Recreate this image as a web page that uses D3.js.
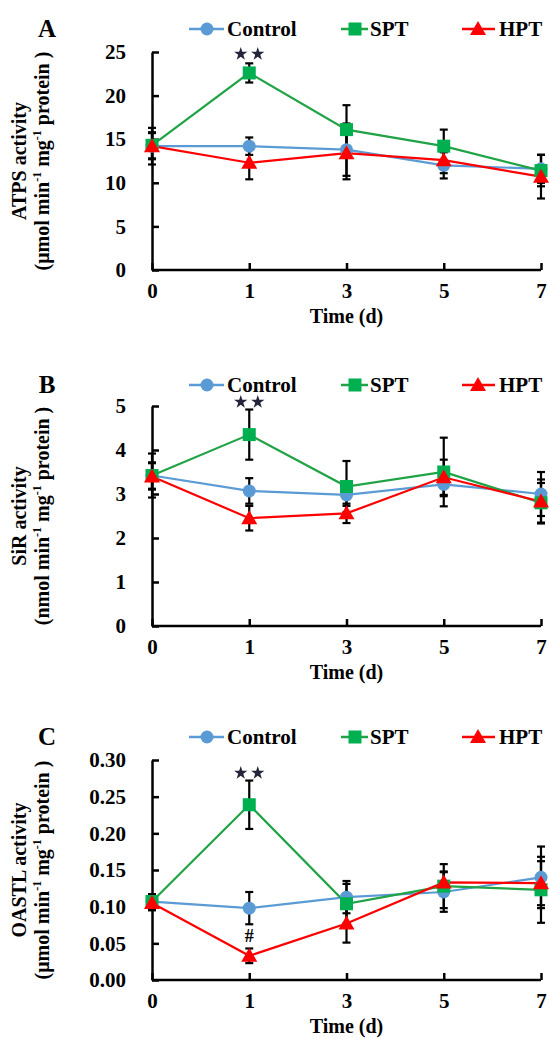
<!DOCTYPE html>
<html>
<head>
<meta charset="utf-8">
<script src="https://cdn.jsdelivr.net/npm/d3@7"></script>
<style>
  body { margin: 0; background: #fff; }
  svg text { font-family: "Liberation Serif", "Times New Roman", serif; font-weight: bold; }
</style>
</head>
<body>
<div id="chart"></div>
<script>
// sampling days (equally spaced on the axis)
const days = [0, 1, 3, 5, 7];
const seriesNames = ["Control", "SPT", "HPT"];

// ATPS activity (umol min-1 mg-1 protein)
const atpsControl = [14.2, 14.2, 13.8, 12.0, 11.6];
const atpsControlErr = [2.1, 1.0, 3.0, 1.5, 1.6];
const atpsSPT = [14.3, 22.6, 16.1, 14.2, 11.4];
const atpsSPTErr = [1.5, 1.1, 2.8, 1.9, 1.8];
const atpsHPT = [14.2, 12.3, 13.4, 12.6, 10.7];
const atpsHPTErr = [1.5, 1.9, 3.0, 1.5, 2.5];
const atpsTicks = [0, 5, 10, 15, 20, 25];

// SiR activity (nmol min-1 mg-1 protein)
const sirControl = [3.42, 3.07, 2.98, 3.22, 3.00];
const sirControlErr = [0.5, 0.29, 0.25, 0.27, 0.5];
const sirSPT = [3.42, 4.35, 3.17, 3.50, 2.80];
const sirSPTErr = [0.3, 0.57, 0.58, 0.78, 0.45];
const sirHPT = [3.40, 2.45, 2.56, 3.38, 2.83];
const sirHPTErr = [0.3, 0.28, 0.22, 0.4, 0.5];
const sirTicks = [0, 1, 2, 3, 4, 5];

// OASTL activity (umol min-1 mg-1 protein)
const oastlControl = [0.107, 0.098, 0.113, 0.120, 0.140];
const oastlControlErr = [0.01, 0.022, 0.022, 0.027, 0.042];
const oastlSPT = [0.107, 0.239, 0.104, 0.128, 0.123];
const oastlSPTErr = [0.01, 0.033, 0.027, 0.030, 0.045];
const oastlHPT = [0.105, 0.033, 0.077, 0.133, 0.132];
const oastlHPTErr = [0.01, 0.010, 0.026, 0.015, 0.030];
const oastlTicks = [0, 0.05, 0.10, 0.15, 0.20, 0.25, 0.30];

const lineColors = ["#5B9BD5", "#1FA345", "#FF0000"];
const markColors = ["#5B9BD5", "#00B050", "#FF0000"];

const width = 549, height = 1038;
const svg = d3.select("#chart").append("svg").attr("width", width).attr("height", height);

const x = d3.scalePoint().domain(days).range([152, 541]);

function marker(g, i, cx, cy) {
    if (i == 0) {
        g.append("circle").attr("cx", cx).attr("cy", cy).attr("r", 6.5).attr("fill", markColors[0]);
    }
    else if (i == 1) {
        g.append("rect").attr("x", cx - 6.5).attr("y", cy - 6.5).attr("width", 13).attr("height", 13).attr("fill", markColors[1]);
    }
    else {
        g.append("path").attr("d", `M${cx},${cy - 8} L${cx + 8},${cy + 6} L${cx - 8},${cy + 6} Z`).attr("fill", markColors[2]);
    }
}

function panel(opts) {
    const y = d3.scaleLinear().domain([0, d3.max(opts.ticks)]).range([opts.bottom, opts.top]);
    const g = svg.append("g");

    // panel letter + legend
    g.append("text").attr("x", 47).attr("y", opts.legendY + 8).attr("text-anchor", "middle")
        .attr("font-size", 25).text(opts.letter);

    const legendPos = [[189, 224, 207, 227], [341, 368, 355, 370], [462, 495, 478, 499]];
    seriesNames.forEach((name, i) => {
        let p = legendPos[i];
        g.append("line").attr("x1", p[0]).attr("x2", p[1]).attr("y1", opts.legendY).attr("y2", opts.legendY)
            .attr("stroke", lineColors[i]).attr("stroke-width", 2.5);
        marker(g, i, p[2], opts.legendY);
        g.append("text").attr("x", p[3]).attr("y", opts.legendY + 7).attr("font-size", 21).text(name);
    });

    // axes
    const yAxis = d3.axisLeft(y).tickValues(opts.ticks).tickFormat(opts.fmt)
        .tickSizeInner(-7).tickSizeOuter(0).tickPadding(26);
    const ya = g.append("g").attr("transform", `translate(${x(0)},0)`).call(yAxis);
    const xAxis = d3.axisBottom(x).tickSizeInner(-7).tickSizeOuter(0).tickPadding(13);
    const xa = g.append("g").attr("transform", `translate(0,${opts.bottom})`).call(xAxis);
    [ya, xa].forEach(a => {
        a.selectAll("path, line").attr("stroke", "#000").attr("stroke-width", 2.5);
        a.selectAll("text").attr("font-size", 21).attr("fill", "#000")
            .style("font-family", '"Liberation Serif", serif').style("font-weight", "bold");
    });
    xa.select(".domain").attr("d", `M${x(0)},0H${x(7)}`);

    // axis titles
    g.append("text").attr("x", (x(0) + x(7)) / 2).attr("y", opts.bottom + 53).attr("text-anchor", "middle")
        .attr("font-size", 20).text("Time (d)");

    const cy = (opts.top + opts.bottom) / 2;
    g.append("text").attr("transform", `translate(26,${cy}) rotate(-90)`).attr("text-anchor", "middle")
        .attr("font-size", 20).text(opts.title);
    const t2 = g.append("text").attr("transform", `translate(49,${cy}) rotate(-90)`).attr("text-anchor", "middle")
        .attr("font-size", 20);
    t2.append("tspan").text(`(${opts.unit} min`);
    t2.append("tspan").attr("dy", -8).attr("font-size", 12).text("-1");
    t2.append("tspan").attr("dy", 8).text(" mg");
    t2.append("tspan").attr("dy", -8).attr("font-size", 12).text("-1");
    t2.append("tspan").attr("dy", 8).text(" protein )");

    // error bars
    const eb = g.append("g").attr("stroke", "#000").attr("stroke-width", 2.2);
    opts.series.forEach((vals, i) => {
        vals.forEach((v, j) => {
            let e = opts.errs[i][j];
            let px = x(days[j]);
            eb.append("line").attr("x1", px).attr("x2", px).attr("y1", y(v - e)).attr("y2", y(v + e));
            eb.append("line").attr("x1", px - 4).attr("x2", px + 4).attr("y1", y(v - e)).attr("y2", y(v - e));
            eb.append("line").attr("x1", px - 4).attr("x2", px + 4).attr("y1", y(v + e)).attr("y2", y(v + e));
        });
    });

    // lines and markers
    const line = d3.line().x((d, j) => x(days[j])).y(d => y(d));
    opts.series.forEach((vals, i) => {
        g.append("path").attr("d", line(vals)).attr("fill", "none")
            .attr("stroke", lineColors[i]).attr("stroke-width", 2.2);
    });
    opts.series.forEach((vals, i) => {
        vals.forEach((v, j) => marker(g, i, x(days[j]), y(v)));
    });

    // significance marks
    [-8.5, 8.5].forEach(dx => {
        g.append("path").attr("d", d3.symbol(d3.symbolStar, 55)())
            .attr("transform", `translate(${x(1) + dx},${opts.starY})`).attr("fill", "#23233a");
    });
    if (opts.hash) {
        g.append("text").attr("x", x(1)).attr("y", y(opts.hash) + 6).attr("text-anchor", "middle")
            .attr("font-size", 18).text("#");
    }
}

panel({
    letter: "A", legendY: 29, top: 52, bottom: 270, ticks: atpsTicks, fmt: d3.format("d"),
    series: [atpsControl, atpsSPT, atpsHPT], errs: [atpsControlErr, atpsSPTErr, atpsHPTErr],
    title: "ATPS activity", unit: "μmol", starY: 54
});
panel({
    letter: "B", legendY: 385, top: 406, bottom: 626, ticks: sirTicks, fmt: d3.format("d"),
    series: [sirControl, sirSPT, sirHPT], errs: [sirControlErr, sirSPTErr, sirHPTErr],
    title: "SiR activity", unit: "nmol", starY: 402
});
panel({
    letter: "C", legendY: 737, top: 760, bottom: 980, ticks: oastlTicks, fmt: d3.format(".2f"),
    series: [oastlControl, oastlSPT, oastlHPT], errs: [oastlControlErr, oastlSPTErr, oastlHPTErr],
    title: "OASTL activity", unit: "μmol", starY: 773, hash: 0.06
});
</script>
</body>
</html>
